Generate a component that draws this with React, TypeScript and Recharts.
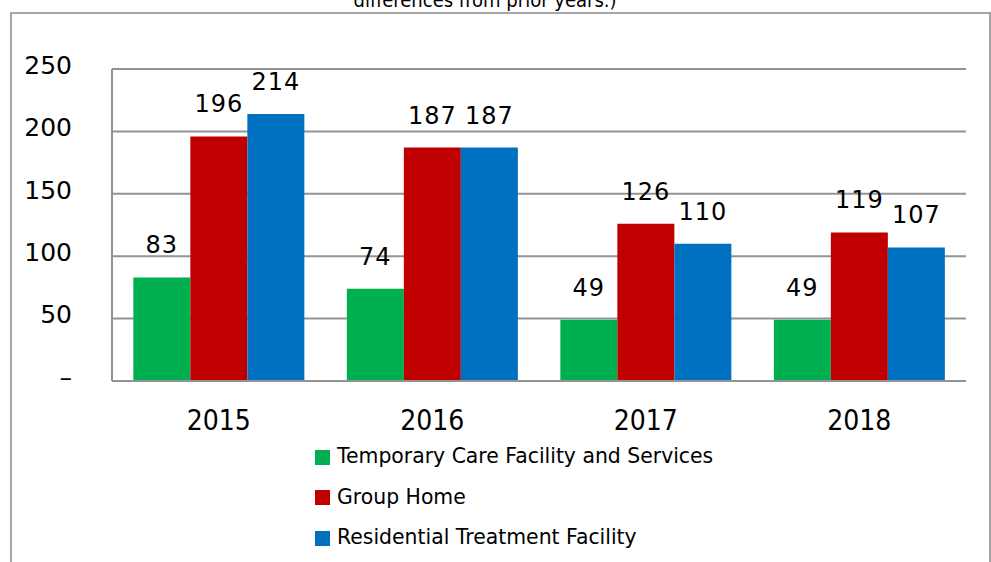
import React from 'react';
import { BarChart, Bar, XAxis, YAxis, CartesianGrid, Legend, LabelList } from 'recharts';

const years = ['2015', '2016', '2017', '2018'];
const temporaryCare = [83, 74, 49, 49];
const groupHome = [196, 187, 126, 119];
const residentialTreatment = [214, 187, 110, 107];
const yTicks = [0, 50, 100, 150, 200, 250];

const seriesNames = ['Temporary Care Facility and Services', 'Group Home', 'Residential Treatment Facility'];
const seriesColors = ['#00B050', '#C00000', '#0070C0'];

const data = years.map((y, i) => ({
  year: y,
  temp: temporaryCare[i],
  group: groupHome[i],
  res: residentialTreatment[i],
}));

const FONT = '"DejaVu Sans", Verdana, sans-serif';
const COND = '"DejaVu Sans Condensed", "DejaVu Sans", sans-serif';

const LegendContent = (props: any) => {
  const payload = props.payload || [];
  const ordered = seriesNames
    .map((n) => payload.find((p: any) => p.value === n))
    .filter(Boolean);
  return (
    <div style={{ fontFamily: FONT, fontSize: 20.4, color: '#000' }}>
      {ordered.map((p: any, i: number) => (
        <div key={i} style={{ display: 'flex', alignItems: 'center', height: 40.5 }}>
          <div style={{ width: 15, height: 15, background: p.color, marginRight: 7, marginTop: 2 }} />
          <span style={{ whiteSpace: 'nowrap' }}>{p.value}</span>
        </div>
      ))}
    </div>
  );
};

const labelStyle = { fontFamily: FONT, fontSize: 24, fill: '#000', letterSpacing: 1 };

export default function App() {
  return (
    <div style={{ position: 'fixed', left: 0, top: 0, width: 991, height: 562, overflow: 'hidden', background: '#fff' }}>
      <div style={{ position: 'absolute', left: 10, top: 12, width: 977, height: 600, borderLeft: '2px solid #a6a6a6', borderTop: '2px solid #a6a6a6', borderRight: '2px solid #a6a6a6' }} />
      <div style={{ position: 'absolute', left: 0, width: 970, top: -10, textAlign: 'center', fontFamily: COND, fontSize: 20, lineHeight: 1, color: '#000', whiteSpace: 'nowrap' }}>
        differences from prior years.)
      </div>
      <div style={{ position: 'absolute', left: 0, top: 0 }}>
        <BarChart width={991} height={562} data={data} margin={{ top: 69, right: 25, left: 0, bottom: 141 }} barCategoryGap="10%" barGap={0}>
          <CartesianGrid vertical={false} stroke="#939393" strokeWidth={2} />
          <XAxis dataKey="year" height={40} tickLine={false} tickSize={0} tickMargin={29} axisLine={{ stroke: '#939393', strokeWidth: 2 }} tick={{ fontFamily: COND, fontSize: 28, fill: '#000' }} />
          <YAxis width={112} domain={[0, 250]} ticks={yTicks} tickLine={false} tickSize={0} tickMargin={40} axisLine={{ stroke: '#939393', strokeWidth: 2 }} tick={{ fontFamily: FONT, fontSize: 25, fill: '#000', dy: -4 }} tickFormatter={(v: number) => (v === 0 ? '–' : String(v))} />
          <Legend layout="vertical" align="center" verticalAlign="middle" content={<LegendContent />} wrapperStyle={{ left: 315, top: 436, width: 500, height: 0, overflow: 'visible', bottom: 'auto' }} />
          <Bar dataKey="temp" name={seriesNames[0]} fill={seriesColors[0]} isAnimationActive={false}>
            <LabelList dataKey="temp" position="top" offset={24} style={labelStyle} />
          </Bar>
          <Bar dataKey="group" name={seriesNames[1]} fill={seriesColors[1]} isAnimationActive={false}>
            <LabelList dataKey="group" position="top" offset={24} style={labelStyle} />
          </Bar>
          <Bar dataKey="res" name={seriesNames[2]} fill={seriesColors[2]} isAnimationActive={false}>
            <LabelList dataKey="res" position="top" offset={24} style={labelStyle} />
          </Bar>
        </BarChart>
      </div>
    </div>
  );
}
